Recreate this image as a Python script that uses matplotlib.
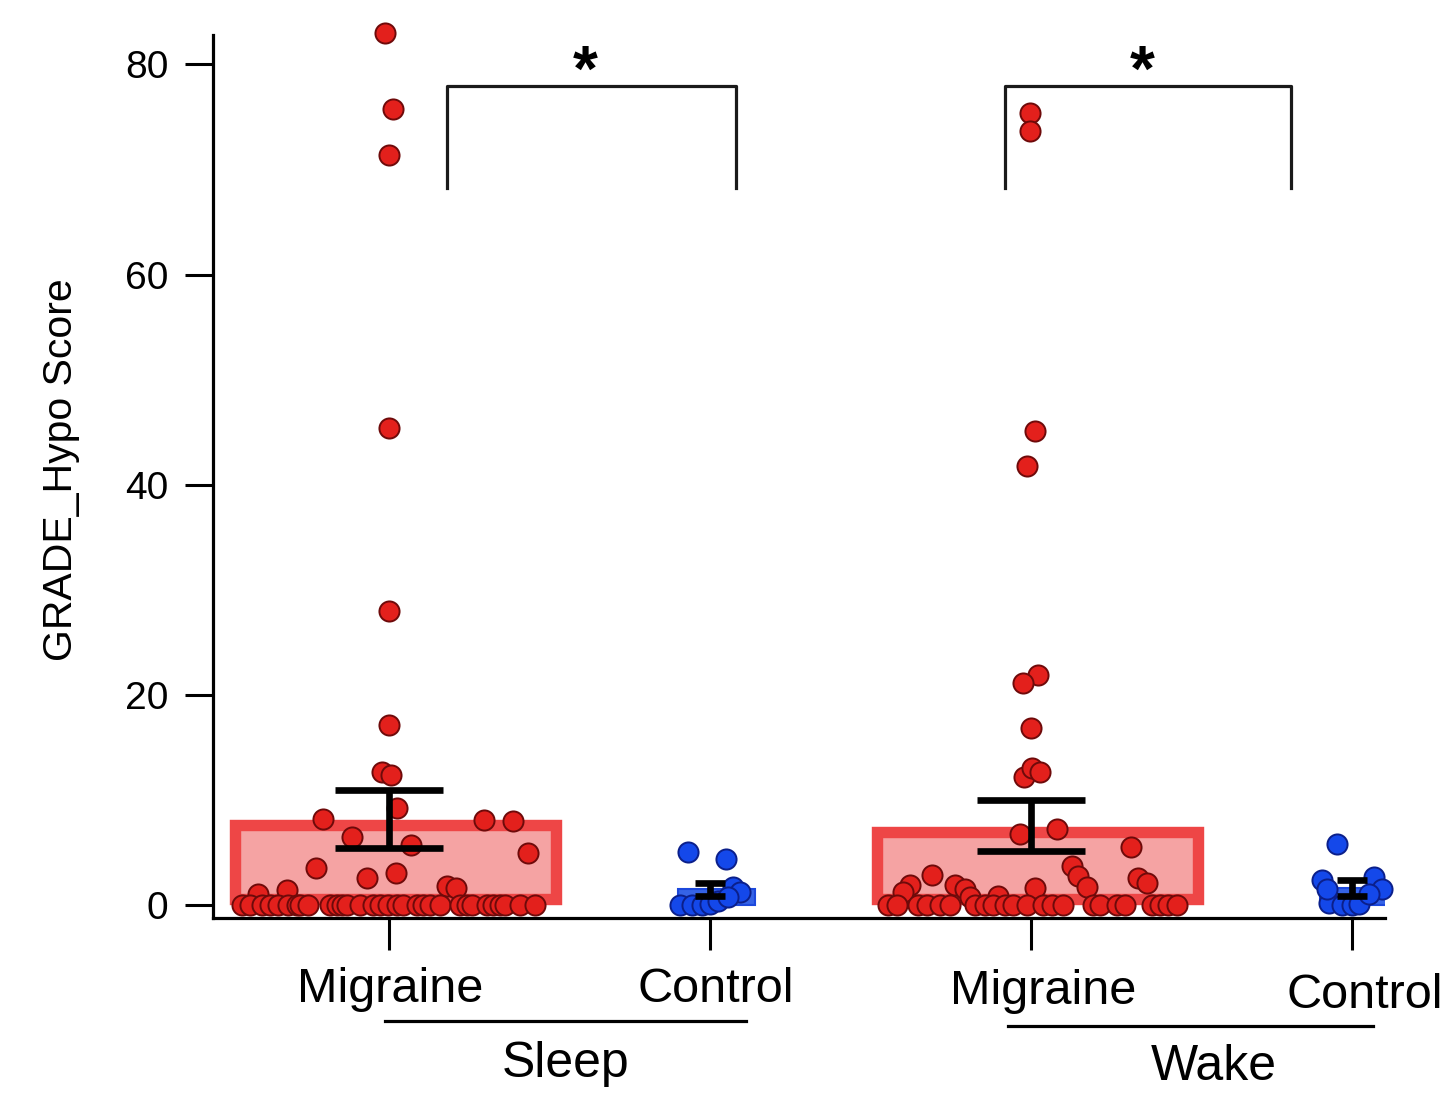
import numpy as np
import matplotlib.pyplot as plt
from matplotlib.transforms import blended_transform_factory

plt.rcParams['font.family'] = ['Liberation Sans', 'DejaVu Sans']

groups = ['Migraine', 'Control', 'Migraine', 'Control']
states = ['Sleep', 'Wake']
positions = [0, 1, 2, 3]

means = [8.2, 1.5, 7.55, 1.6]
sems = [2.75, 0.6, 2.45, 0.75]

# individual scores, with the horizontal jitter
sleep_migraine = [83.0, 75.8, 71.4, 45.4, 28.0, 17.1, 12.7, 12.4, 9.2, 8.2, 8.1, 8.0,
                  6.5, 5.7, 4.9, 3.5, 2.6, 3.0, 1.8, 1.6, 1.0, 1.4,
                  0, 0, 0, 0, 0, 0, 0, 0, 0, 0, 0, 0, 0, 0, 0, 0,
                  0, 0, 0, 0, 0, 0, 0, 0, 0, 0, 0, 0, 0, 0, 0, 0]
sleep_migraine_jit = [-0.012, 0.012, 0.0, 0.0, 0.0, 0.0, -0.022, 0.006, 0.025, -0.206, 0.296, 0.386,
                      -0.115, 0.069, 0.433, -0.227, -0.069, 0.022, 0.181, 0.209, -0.408, -0.318,
                      -0.458, -0.433, -0.396, -0.371, -0.346, -0.315, -0.287, -0.277, -0.252, -0.184,
                      -0.162, -0.146, -0.131, -0.090, -0.050, -0.028, -0.003, 0.025, 0.044, 0.087,
                      0.106, 0.128, 0.159, 0.221, 0.243, 0.259, 0.305, 0.324, 0.346, 0.361, 0.408, 0.455]

sleep_control = [5.0, 4.4, 1.7, 1.2, 0.0, 0.0, 0.0, 0.1, 0.4, 0.8]
sleep_control_jit = [-0.069, 0.05, 0.072, 0.093, -0.093, -0.056, -0.025, 0.0, 0.025, 0.056]

wake_migraine = [75.4, 73.7, 45.1, 41.8, 21.9, 21.1, 16.8, 12.2, 13.0, 12.7, 6.8, 7.2, 5.5,
                 3.7, 2.8, 1.7, 2.6, 2.1, 2.9, 1.9, 1.2, 1.9, 1.5, 0.8, 1.6, 0.9,
                 0, 0, 0, 0, 0, 0, 0, 0, 0, 0, 0, 0, 0, 0, 0, 0, 0, 0, 0, 0, 0, 0, 0]
wake_migraine_jit = [-0.003, -0.003, 0.012, -0.012, 0.022, -0.025, 0.0, -0.022, 0.003, 0.028, -0.034, 0.081, 0.31,
                     0.128, 0.147, 0.174, 0.333, 0.36, -0.31, -0.377, -0.40, -0.237, -0.206, -0.19, 0.012, -0.103,
                     -0.445, -0.417, -0.352, -0.324, -0.283, -0.252, -0.174, -0.143, -0.118, -0.081, -0.056,
                     -0.012, 0.037, 0.065, 0.100, 0.193, 0.215, 0.268, 0.293, 0.377, 0.402, 0.427, 0.455]

wake_control = [5.8, 2.4, 2.7, 1.5, 0.2, 0.0, 0.0, 0.1, 1.0, 1.5]
wake_control_jit = [-0.047, -0.093, 0.069, 0.093, -0.072, -0.031, 0.0, 0.022, 0.053, -0.08]

points = [(sleep_migraine, sleep_migraine_jit), (sleep_control, sleep_control_jit),
          (wake_migraine, wake_migraine_jit), (wake_control, wake_control_jit)]

# significance brackets: (x left, x right, top, leg bottom)
brackets = [(0.18, 1.08, 77.9, 68.2), (1.92, 2.81, 77.9, 68.2)]

red_face, red_edge = '#e3201c', '#6e0a0a'
blue_face, blue_edge = '#1448ea', '#0b1f8a'

fig = plt.figure(figsize=(14.43, 10.97), dpi=100)
ax = fig.add_axes([213 / 1443, 1 - 918 / 1097, (1385 - 213) / 1443, (918 - 35) / 1097])
ax.set_xlim(-0.548, 3.102)
ax.set_ylim(-1.24, 82.8)

# bars, stroke kept inside the top/bottom like the original
ax_h_px = (918 - 35)
inset = 6 * (82.8 + 1.24) / ax_h_px
for i, (pos, m) in enumerate(zip(positions, means)):
    if groups[i] == 'Migraine':
        ax.bar(pos + 0.02, m - 2 * inset, bottom=inset, width=1.0, color='#f5a3a3',
               edgecolor='#ee4646', linewidth=8.2, zorder=1)
    else:
        ax.bar(pos + 0.02, m, width=0.24, color='#3563e6', edgecolor='#1c48dc',
               linewidth=1.5, zorder=1)

for i, (vals, jit) in enumerate(points):
    face, edge = (red_face, red_edge) if groups[i] == 'Migraine' else (blue_face, blue_edge)
    ax.scatter(np.array(jit) + positions[i], vals, s=210, color=face, edgecolor=edge,
               linewidth=1.4, zorder=3, clip_on=False)

for i, pos in enumerate(positions):
    cap = 39 if groups[i] == 'Migraine' else 11
    ax.errorbar(pos, means[i], yerr=sems[i], fmt='none', ecolor='black',
                elinewidth=4.8, capsize=cap, capthick=4.8, zorder=4)

for x0, x1, top, low in brackets:
    ax.plot([x0, x0, x1, x1], [low, top, top, low], color='#1a1a1a', lw=2.3, zorder=2)
    ax.text((x0 + x1) / 2 - 0.02, 77.5, '*', ha='center', va='baseline', fontsize=46,
            fontweight='bold', zorder=5)

for side in ['top', 'right']:
    ax.spines[side].set_visible(False)
for side in ['left', 'bottom']:
    ax.spines[side].set_linewidth(2.3)

ax.set_yticks([0, 20, 40, 60, 80])
ax.tick_params(axis='y', labelsize=28, length=20, width=2.2, pad=12)
ax.set_xticks(positions)
ax.set_xticklabels([])
ax.tick_params(axis='x', length=23, width=2.2)

# category labels and group lines under the axis
trans = blended_transform_factory(ax.transData, fig.transFigure)
label_nudge = [0.003, 0.019, 0.037, 0.04]
label_base = [1002, 1002, 1004, 1008]
for i, pos in enumerate(positions):
    ax.text(pos + label_nudge[i], 1 - label_base[i] / 1097, groups[i], transform=trans,
            ha='center', va='baseline', fontsize=35, clip_on=False)

group_lines = [(-0.012, 1.112, 1021), (1.928, 3.065, 1026)]
group_text = [(0.55, 1077), (2.57, 1080)]
for (x0, x1, ypx), (xt, ytp), name in zip(group_lines, group_text, states):
    ax.plot([x0, x1], [1 - ypx / 1097] * 2, transform=trans, color='black', lw=2.3,
            clip_on=False)
    ax.text(xt, 1 - ytp / 1097, name, transform=trans, ha='center', va='baseline',
            fontsize=36, clip_on=False)

fig.text(61 / 1443, 1 - 470 / 1097, 'GRADE_Hypo Score', rotation=90, ha='center',
         va='center', fontsize=29.5)

fig.savefig('out.png', dpi=100)
